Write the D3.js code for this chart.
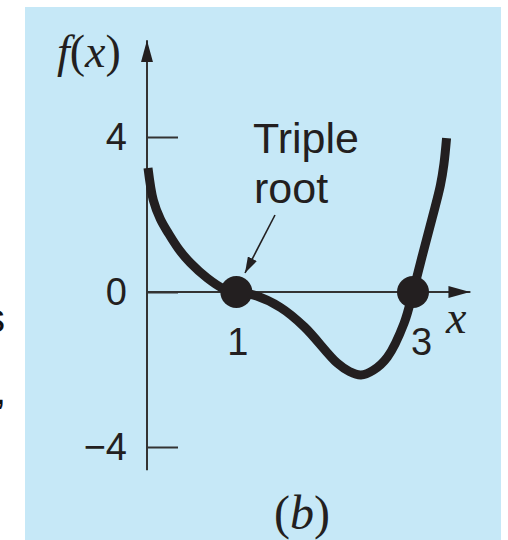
<!DOCTYPE html>
<html>
<head>
<meta charset="utf-8">
<script src="https://cdn.jsdelivr.net/npm/d3@7"></script>
<style>
  html, body { margin: 0; padding: 0; background: #fff; }
  svg { display: block; }
</style>
</head>
<body>
<script>
// Curve samples (x, f(x)) of the function with a triple root at x = 1
const xs = [0, 0.06, 0.14, 0.23, 0.35, 0.48, 0.67, 0.85, 1.0, 1.2, 1.5, 1.77, 2.14, 2.28, 2.41, 2.55, 2.71, 2.9, 3.0, 3.11, 3.22, 3.31, 3.35, 3.38];
const fs = [3.2, 2.37, 1.88, 1.52, 1.1, 0.75, 0.36, 0.09, 0, -0.08, -0.4, -0.9, -1.83, -2.05, -2.14, -2.02, -1.68, -0.8, 0, 0.98, 1.93, 2.75, 3.3, 3.97];
// Roots marked with dots
const roots = [1, 3];
// Axis ticks
const yTicks = [-4, 0, 4];
const xTicks = [1, 3];

const W = 508, H = 540;
const svg = d3.select("body").append("svg").attr("width", W).attr("height", H);

svg.append("rect").attr("width", W).attr("height", H).attr("fill", "#fff");
svg.append("rect").attr("x", 25).attr("y", 7).attr("width", 476).attr("height", H - 7)
  .attr("fill", "#c6e8f7");

const x = d3.scaleLinear().domain([0, 3]).range([148, 413]);
const y = d3.scaleLinear().domain([-4, 4]).range([447, 137]);

const ink = "#231f20";
const axisCol = "#333";
const sans = "'Liberation Sans', Arial, sans-serif";
const serif = "'Liberation Serif', 'Times New Roman', serif";

// arrowheads
const defs = svg.append("defs");
defs.append("marker").attr("id", "axhead").attr("viewBox", "0 0 22 12")
  .attr("refX", 22).attr("refY", 6).attr("markerWidth", 22).attr("markerHeight", 12)
  .attr("markerUnits", "userSpaceOnUse").attr("orient", "auto")
  .append("path").attr("d", "M0,0 L22,6 L0,12 Z").attr("fill", ink);
defs.append("marker").attr("id", "smallhead").attr("viewBox", "0 0 16 10")
  .attr("refX", 16).attr("refY", 5).attr("markerWidth", 16).attr("markerHeight", 10)
  .attr("markerUnits", "userSpaceOnUse").attr("orient", "auto")
  .append("path").attr("d", "M0,0 L16,5 L0,10 Z").attr("fill", ink);

// y axis: ticks point into the plot, labels on the left
const yAxis = d3.axisLeft(y).tickValues(yTicks)
  .tickSizeInner(-31).tickSizeOuter(0).tickPadding(20)
  .tickFormat(d => d < 0 ? "\u2212" + Math.abs(d) : String(d));
const gy = svg.append("g").attr("transform", `translate(${x(0) - 1},0)`).call(yAxis);
gy.select(".domain").remove();
gy.selectAll(".tick line").attr("stroke", axisCol).attr("stroke-width", 2);
gy.selectAll(".tick text").attr("fill", ink)
  .style("font-family", sans).style("font-size", "38px");

// y axis line with arrow
svg.append("line").attr("x1", x(0) - 1).attr("x2", x(0) - 1)
  .attr("y1", y(-4.6)).attr("y2", y(6.5))
  .attr("stroke", axisCol).attr("stroke-width", 2).attr("marker-end", "url(#axhead)");

// x axis line with arrow
svg.append("line").attr("x1", x(0) - 1).attr("x2", x(3.65))
  .attr("y1", y(0)).attr("y2", y(0))
  .attr("stroke", axisCol).attr("stroke-width", 2).attr("marker-end", "url(#axhead)");

// x tick labels (no tick marks)
const xAxis = d3.axisBottom(x).tickValues(xTicks).tickSize(0).tickPadding(36)
  .tickFormat(d3.format("d"));
const gx = svg.append("g").attr("transform", `translate(0,${y(0)})`).call(xAxis);
gx.select(".domain").remove();
gx.selectAll(".tick text").attr("fill", ink)
  .style("font-family", sans).style("font-size", "38px")
  .attr("dx", d => d === 3 ? 8 : 1);

// function curve
const pts = xs.map((v, i) => [v, fs[i]]);
svg.append("path").datum(pts)
  .attr("d", d3.line().x(d => x(d[0])).y(d => y(d[1])).curve(d3.curveCatmullRom.alpha(0.5)))
  .attr("fill", "none").attr("stroke", ink).attr("stroke-width", 9);

// root dots
svg.selectAll("circle.root").data(roots).join("circle").attr("class", "root")
  .attr("cx", d => x(d)).attr("cy", y(0)).attr("r", 16).attr("fill", ink);

// annotation
const ann = svg.append("text").attr("fill", ink)
  .style("font-family", sans).style("font-size", "43px");
ann.append("tspan").attr("x", 253).attr("y", 153).text("Triple");
ann.append("tspan").attr("x", 254).attr("y", 203).text("root");
svg.append("line").attr("x1", 275).attr("y1", 215).attr("x2", 245).attr("y2", 273)
  .attr("stroke", ink).attr("stroke-width", 1.6).attr("marker-end", "url(#smallhead)");

// axis titles and panel caption
const fx = svg.append("text").attr("x", 57).attr("y", 67).attr("fill", ink)
  .style("font-family", serif).style("font-size", "46px");
fx.append("tspan").style("font-style", "italic").text("f");
fx.append("tspan").text("(");
fx.append("tspan").style("font-style", "italic").text("x");
fx.append("tspan").text(")");

svg.append("text").attr("x", 446).attr("y", 333).attr("fill", ink)
  .style("font-family", serif).style("font-size", "46px").style("font-style", "italic").text("x");

const cap = svg.append("text").attr("x", 302).attr("y", 529).attr("text-anchor", "middle").attr("fill", ink)
  .style("font-family", serif).style("font-size", "48px");
cap.append("tspan").text("(");
cap.append("tspan").style("font-style", "italic").text("b");
cap.append("tspan").text(")");

// fragments of neighbouring text at the left edge
svg.append("text").attr("x", 5).attr("y", 332).attr("text-anchor", "end").attr("fill", "#111")
  .style("font-family", sans).style("font-size", "40px").text("s");
svg.append("text").attr("x", 6).attr("y", 404).attr("text-anchor", "end").attr("fill", "#111")
  .style("font-family", sans).style("font-size", "40px").text(",");
</script>
</body>
</html>
